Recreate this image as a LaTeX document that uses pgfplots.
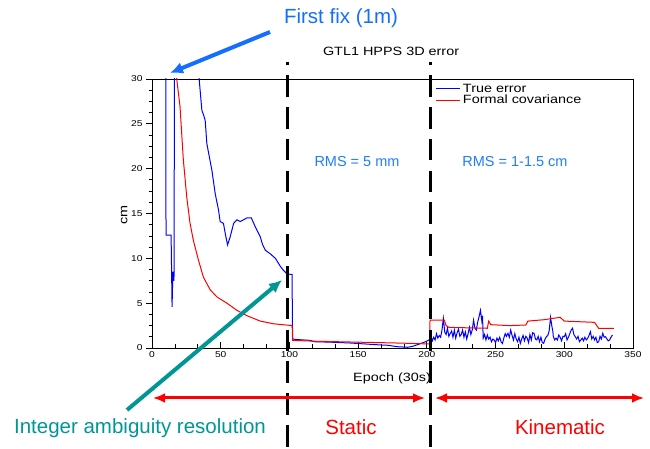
\documentclass[border=0pt]{standalone}
\usepackage{fontspec}
\setmainfont{Liberation Sans}
\newfontfamily\chartfont[FakeStretch=1.2]{Liberation Sans}
\usepackage{pgfplots}
\pgfplotsset{compat=1.18}
\usetikzlibrary{arrows.meta}

\definecolor{fixblue}{RGB}{20,110,255}
\definecolor{rmsblue}{RGB}{30,125,255}
\definecolor{iarteal}{RGB}{0,150,150}

% x ticks point inwards, y ticks outwards (only if the key exists)
\pgfkeysifdefined{/pgfplots/xtick align/.@cmd}
  {\pgfplotsset{myxal/.style={xtick align=inside}}}
  {\pgfplotsset{myxal/.style={}}}

\begin{document}
\begin{tikzpicture}[x=1pt,y=1pt]
\useasboundingbox (0,0) rectangle (650,449);
\begin{axis}[
    at={(152pt,101pt)}, anchor=south west,
    scale only axis, width=481pt, height=269pt,
    xmin=0, xmax=350, ymin=0, ymax=30,
    xtick={0,50,...,350}, ytick={0,5,...,30},
    minor x tick num=2, minor y tick num=3,
    tick align=outside, myxal,
    major tick length=6pt, minor tick length=3.5pt,
    tickpos=left,
    axis line style={line width=0.8pt},
    every tick/.style={black, line width=0.8pt},
    /pgf/number format/assume math mode=true,
    tick label style={font=\chartfont\fontsize{8.5}{10}\selectfont},
    title={GTL1 HPPS 3D error},
    title style={at={(axis description cs:0.497,1.082)}, anchor=center,
                 font=\chartfont\fontsize{12}{14}\selectfont},
    xlabel={Epoch (30s)},
    xlabel style={at={(axis description cs:0.499,-0.112)}, anchor=center,
                  font=\chartfont\fontsize{12}{14}\selectfont},
    ylabel={cm},
    ylabel style={at={(axis description cs:-0.058,0.494)}, anchor=center,
                  font=\chartfont\fontsize{12}{14}\selectfont},
    legend style={at={(axis description cs:0.59,0.99)}, anchor=north west,
                  draw=none, fill=none, inner sep=0pt, row sep=-2.5pt,
                  font=\chartfont\fontsize{12}{12.5}\selectfont},
    legend cell align=left,
    legend image code/.code={\draw[#1, line width=1pt] (0pt,0pt) -- (24pt,0pt);},
]
\addplot[blue, line width=1pt] coordinates {
(9.5,100) (10.2,12.6) (13.9,12.6) (14.3,8) (14.6,4.6) (15.2,8.5) (16.0,7.5) (16.8,60)
(33,60) (34.3,30) (36.3,26.5) (37.5,26) (38.7,25.4) (39.9,22.8) (41.5,21.5) (43.6,19.8)
(46,17.2) (48.4,15.4) (49.6,14.1) (52,13.9) (53.5,12.6) (55,11.5) (56.9,12.4) (59.4,13.9)
(61.8,14.3) (64.2,14.1) (66.6,14.3) (69,14.5) (72.3,14.5) (75.2,13.5) (78.8,12.4) (80.5,11.5)
(82.5,10.9) (86.1,10.5) (89.8,10) (93.4,9.1) (96,8.6) (98.3,8.25) (101.9,8.2) (102.3,1.0)
(105,0.95) (110,0.9) (115,0.85) (118,0.7) (130,0.65) (145,0.55) (155,0.45) (165,0.35)
(172,0.3) (178,0.15) (186,0.08) (190,0.2) (195.6,0.5) (199,0.7) (201.7,0.9)
(203,1.3) (204,0.8) (205,1.2) (206,0.9) (207,1.6) (208,1.1) (209,1.4) (210,1.2) (211,2.0)
(212,3.3) (213,1.8) (214,1.5) (215,2.2) (216,1.3) (217,1.6) (218,1.9) (219,1.2) (220,2.0)
(221,1.1) (222,1.7) (223,2.1) (224,1.3) (225,1.5) (226,2.0) (227,1.2) (228,1.8) (229,1.0)
(230,1.6) (231,2.3) (232,1.5) (233,2.0) (234,3.1) (235,2.2) (236,2.0) (237,2.9) (238,3.5)
(239,4.2) (240,3.0) (240.5,3.6) (241,1.1) (242,1.5) (243,0.9) (244,1.45) (245,1.0) (246,1.2)
(247,0.7) (248,1.0) (249,0.89) (250,0.6) (251,1.1) (252,0.8) (253,1.2) (254,0.7) (255,0.5)
(256,1.1) (257,1.6) (258,1.3) (259,1.64) (260,1.2) (261,2.0) (262,1.4) (263,0.9) (264,1.6)
(265,1.0) (266,0.7) (267,1.2) (268,0.5) (269,1.0) (270,1.4) (271,0.8) (272,1.3) (273,1.1)
(274,0.6) (275,1.5) (276,0.9) (277,1.7) (278,1.64) (279,1.0) (280,0.9) (281,1.3) (282,0.7)
(283,1.2) (284,0.6) (285,0.52) (286,1.0) (287,1.26) (288,1.4) (289,1.9) (290,3.42) (291,2.4)
(291.7,1.82) (292,1.3) (293,0.9) (294,1.1) (295,0.89) (296,1.45) (297,1.2) (298,0.8) (299,1.3)
(300,1.26) (301,1.6) (302,0.89) (303,1.2) (304,1.6) (305,2.0) (306,2.2) (307,1.5) (308,1.26)
(309,1.0) (310,1.3) (311,0.7) (312,0.89) (313,1.1) (314,0.8) (315,1.2) (316,0.9) (317,1.08)
(318,1.4) (319,1.82) (320,1.0) (321,1.3) (322,0.89) (323,1.2) (324,0.6) (325,0.7) (326,1.3)
(327,1.0) (328,1.64) (329,1.2) (330,1.26) (331,1.0) (332,0.8) (333,0.89) (334,1.2) (335,1.45)
};
\addlegendentry{True error}
\addplot[red, line width=1pt] coordinates {
(17.5,40) (18,30) (20.4,26.9) (22.8,21) (25.3,16.8) (27.7,13.9) (30.1,12.0) (33.8,9.8)
(37.4,7.9) (42.3,6.5) (47.2,5.7) (54.5,5.0) (61.8,4.2) (69.1,3.6) (78.8,3.0) (88.5,2.7)
(95,2.6) (102,2.5) (102.3,0.85) (120,0.75) (150,0.65) (180,0.55) (202,0.45) (202.3,3.12)
(212.7,3.12) (214,2.5) (216,2.3) (230,2.25) (244,2.2) (245,3.0) (246.5,2.6) (260,2.5)
(272,2.56) (273.5,3.0) (285,3.15) (297,3.42) (300,3.0) (322,2.86) (325,2.2) (336,2.2)
};
\addlegendentry{Formal covariance}
\end{axis}

% phase boundaries
\draw[black, line width=2.6pt, dash pattern=on 21.5pt off 10.3pt, dash phase=18.5pt]
  (287.5,387) -- (287.5,0);
\draw[black, line width=3pt, dash pattern=on 21.5pt off 10.3pt, dash phase=18.5pt]
  (430,387) -- (430,0);

% RMS labels
\node[text=rmsblue, font=\fontsize{14.5}{16}\selectfont] at (357,287) {RMS = 5 mm};
\node[text=rmsblue, font=\fontsize{14.5}{16}\selectfont] at (515,287) {RMS = 1-1.5 cm};

% phase arrows
\draw[red, line width=3pt, {Latex[length=12pt,width=10pt]}-{Latex[length=12pt,width=10pt]}]
  (153,51) -- (425,51);
\draw[red, line width=3pt, {Latex[length=12pt,width=10pt]}-{Latex[length=12pt,width=10pt]}]
  (435,51) -- (644,51);
\node[text=red, font=\fontsize{20.5}{24}\selectfont] at (351,22) {Static};
\node[text=red, font=\fontsize{20.5}{24}\selectfont] at (560,22) {Kinematic};

% annotations
\draw[fixblue, line width=4pt, -{Latex[length=13pt,width=12pt]}] (270,417) -- (170,376);
\node[text=fixblue, font=\fontsize{20.5}{24}\selectfont] at (341,431) {First fix (1m)};
\draw[iarteal, line width=4pt, -{Latex[length=13pt,width=12pt]}] (127,39) -- (282,169);
\node[text=iarteal, font=\fontsize{20.5}{24}\selectfont] at (140,21) {Integer ambiguity resolution};
\end{tikzpicture}
\end{document}
